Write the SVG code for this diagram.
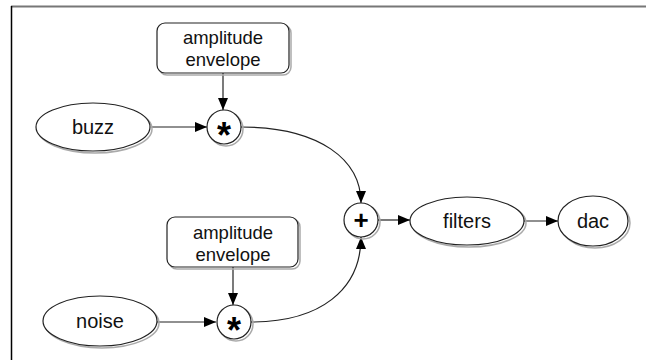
<svg xmlns="http://www.w3.org/2000/svg" width="646" height="360" viewBox="0 0 646 360">
<style>
.shape{fill:#fff;stroke:#222;stroke-width:1.2}
.shadow{fill:none;stroke:#aaa;stroke-width:1.5}
.lbl{font-family:"Liberation Sans",Arial,sans-serif;font-size:20px;fill:#111;text-anchor:middle}
.box{font-size:18.5px}
.op{font-family:"Liberation Sans",Arial,sans-serif;font-weight:bold;font-size:36px;fill:#000;text-anchor:middle}
.edge{fill:none;stroke:#222;stroke-width:1.2}
</style>
<defs>
<marker id="arr" viewBox="0 0 12 10" refX="12" refY="5" markerWidth="12" markerHeight="10" markerUnits="userSpaceOnUse" orient="auto">
<path d="M0,0 L12,5 L0,10 Z" fill="#000"/>
</marker>
</defs>
<rect width="646" height="360" fill="#fff"/>
<line x1="11" y1="6.5" x2="646" y2="6.5" stroke="#777" stroke-width="2"/>
<line x1="11.5" y1="6" x2="11.5" y2="360" stroke="#000" stroke-width="1.5"/>

<g id="connectors">
<line class="edge" x1="151" y1="127" x2="207" y2="127" marker-end="url(#arr)"/>
<line class="edge" x1="223" y1="73" x2="223" y2="110" marker-end="url(#arr)"/>
<line class="edge" x1="157" y1="322" x2="216" y2="322" marker-end="url(#arr)"/>
<line class="edge" x1="233" y1="267" x2="233" y2="305" marker-end="url(#arr)"/>
<path class="edge" d="M241,127 C320,127 361,160 361,203" marker-end="url(#arr)"/>
<path class="edge" d="M251,322 C320,322 361,290 361,237" marker-end="url(#arr)"/>
<line class="edge" x1="378" y1="220" x2="410" y2="220" marker-end="url(#arr)"/>
<line class="edge" x1="524" y1="221" x2="558" y2="221" marker-end="url(#arr)"/>
</g>

<g id="env1">
<rect class="shadow" x="159" y="25" width="132" height="50" rx="8"/>
<rect class="shape" x="157" y="23" width="132" height="50" rx="8"/>
<text class="lbl box" x="223" y="44">amplitude</text>
<text class="lbl box" x="223" y="66">envelope</text>
</g>
<g id="buzz">
<ellipse class="shadow" cx="95" cy="129" rx="57" ry="24"/>
<ellipse class="shape" cx="93" cy="127" rx="57" ry="24"/>
<text class="lbl" x="93" y="134">buzz</text>
</g>
<g id="mul1">
<circle class="shadow" cx="226" cy="129" r="17"/>
<circle class="shape" cx="224" cy="127" r="17"/>
<text class="op" x="224" y="148">*</text>
</g>
<g id="env2">
<rect class="shadow" x="169" y="219" width="131" height="50" rx="8"/>
<rect class="shape" x="167" y="217" width="131" height="50" rx="8"/>
<text class="lbl box" x="233" y="239">amplitude</text>
<text class="lbl box" x="233" y="261">envelope</text>
</g>
<g id="noise">
<ellipse class="shadow" cx="102" cy="323" rx="57" ry="25"/>
<ellipse class="shape" cx="100" cy="321" rx="57" ry="25"/>
<text class="lbl" x="100" y="328">noise</text>
</g>
<g id="mul2">
<circle class="shadow" cx="236" cy="324" r="17"/>
<circle class="shape" cx="234" cy="322" r="17"/>
<text class="op" x="234" y="343">*</text>
</g>
<g id="plus">
<circle class="shadow" cx="363" cy="222" r="17"/>
<circle class="shape" cx="361" cy="220" r="17"/>
<text class="op" x="361" y="229" style="font-size:26px">+</text>
</g>
<g id="filters">
<ellipse class="shadow" cx="469" cy="223" rx="57" ry="24"/>
<ellipse class="shape" cx="467" cy="221" rx="57" ry="24"/>
<text class="lbl" x="467" y="228">filters</text>
</g>
<g id="dac">
<ellipse class="shadow" cx="595" cy="223" rx="35" ry="25"/>
<ellipse class="shape" cx="593" cy="221" rx="35" ry="25"/>
<text class="lbl" x="593" y="228">dac</text>
</g>
</svg>
